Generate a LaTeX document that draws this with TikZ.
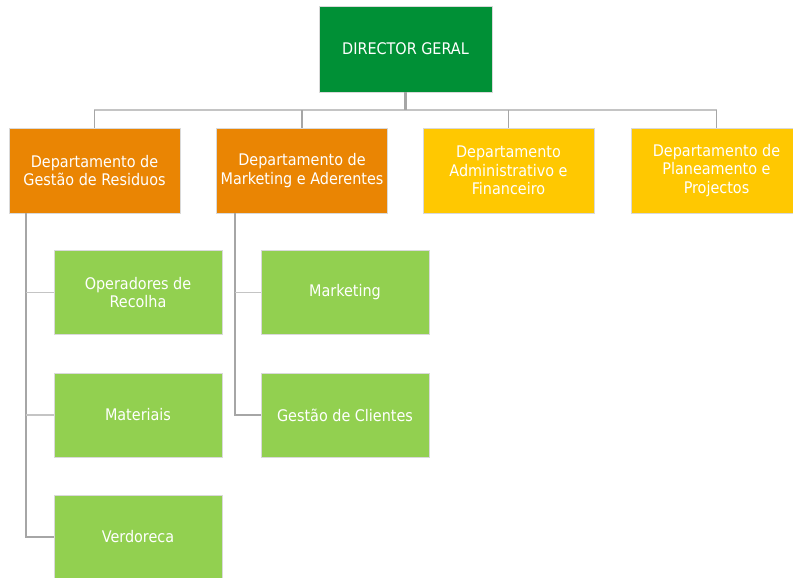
\documentclass[tikz,border=0pt]{standalone}
\usepackage{fontspec}
\setmainfont{DejaVu Sans Condensed}
\definecolor{dirgreen}{HTML}{009036}
\definecolor{dorange}{HTML}{EA8503}
\definecolor{dyellow}{HTML}{FFC801}
\definecolor{lgreen}{HTML}{92D050}
\definecolor{conn}{HTML}{A6A6A6}
\definecolor{connlight}{HTML}{C4C4C4}
\tikzset{
  box/.style={draw=white!85!black, line width=0.6pt, text=white, align=center,
    font=\fontsize{16}{18.5}\selectfont, inner sep=2pt},
  dirbox/.style={box, fill=dirgreen, minimum width=173pt, minimum height=86pt},
  orbox/.style={box, fill=dorange, minimum width=171pt, minimum height=85pt},
  yebox/.style={box, fill=dyellow, minimum width=171pt, minimum height=85pt},
  chbox/.style={box, fill=lgreen, minimum width=168pt, minimum height=84pt},
  link/.style={draw=conn, line width=1.8pt},
  lightlink/.style={draw=connlight, line width=1.8pt},
  droplink/.style={draw=conn, line width=2.6pt}
}
\begin{document}
\begin{tikzpicture}[x=1pt,y=-1pt]
\useasboundingbox (0,0) rectangle (793,578);
\clip (0,0) rectangle (793,578);
% nodes
\node[dirbox] (dir) at (405.5,49) {DIRECTOR GERAL};
\node[orbox] (o1) at (94.5,170.5) {Departamento de\\Gestão de Residuos};
\node[orbox] (o2) at (302,170.5) {Departamento de\\Marketing e Aderentes};
\node[yebox] (y1) at (508.5,170.5) {Departamento\\Administrativo e\\Financeiro};
\node[yebox] (y2) at (716.5,170.5) {Departamento de\\Planeamento e\\Projectos};
\node[chbox] (c1) at (138,292.5) {Operadores de\\Recolha};
\node[chbox] (c2) at (138,415) {Materiais};
\node[chbox] (c3) at (138,537) {Verdoreca};
\node[chbox] (d1) at (345,292.5) {Marketing};
\node[chbox] (d2) at (345,415) {Gestão de Clientes};
\coordinate (tx) at (26,0);
\coordinate (ux) at (235,0);
\coordinate (bus) at (0,110);
% connectors
\draw[lightlink] (o1.north) |- (bus -| dir.south) -| (y2.north);
\draw[link] (o2.north) -- (o2.north |- bus);
\draw[link] (y1.north) -- (y1.north |- bus);
\draw[link] (o1.north) -- (o1.north |- bus);
\draw[link] (y2.north) -- (y2.north |- bus);
\draw[droplink] (dir.south) -- (dir.south |- bus);
\draw[link] (o1.south -| tx) |- (c3.west);
\draw[lightlink] (c1.west -| tx) -- (c1.west);
\draw[lightlink] (c2.west -| tx) -- (c2.west);
\draw[link] (o2.south -| ux) |- (d2.west);
\draw[lightlink] (d1.west -| ux) -- (d1.west);
\end{tikzpicture}
\end{document}
